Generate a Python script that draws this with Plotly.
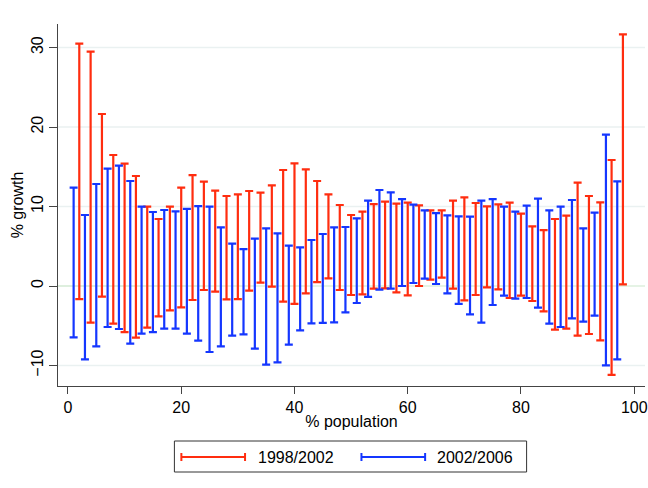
import plotly.graph_objects as go

# Red series: 1998/2002 (even percentiles)
x_red = list(range(2, 99, 2))
red_high = [30.48, 29.48, 21.64, 16.48, 15.39, 13.84, 9.98, 8.43, 9.98, 12.37,
            13.96, 13.12, 11.99, 11.32, 11.53, 11.95, 11.74, 12.66, 14.59, 15.43,
            14.68, 13.21, 11.53, 10.19, 8.93, 9.35, 10.31, 10.61, 10.36, 10.48,
            10.15, 9.52, 9.52, 10.73, 11.15, 10.44, 10.02, 10.27, 10.48, 9.10,
            7.51, 7.04, 8.43, 8.85, 13.00, 11.32, 10.52, 15.85, 31.66]
red_low = [-1.64, -4.61, -1.34, -4.74, -5.79, -6.50, -5.24, -3.82, -3.06, -2.68,
           -1.76, -0.50, -0.71, -1.68, -1.64, -0.59, 0.42, -0.08, -1.97, -2.26,
           -0.92, 0.50, 0.96, -0.50, -1.13, -1.05, -0.34, -0.29, -0.80, -1.17,
           0.00, 0.80, 1.05, -0.34, -1.80, -1.13, -0.17, -0.42, -1.51, -1.22,
           -1.89, -3.19, -5.49, -5.37, -6.25, -6.04, -6.83, -11.19, 0.21]

# Blue series: 2002/2006 (odd percentiles)
x_blue = list(range(1, 98, 2))
blue_high = [12.37, 8.93, 12.83, 14.76, 15.14, 13.21, 9.98, 9.31, 9.56, 9.39,
             9.69, 10.06, 9.98, 7.38, 5.32, 4.65, 5.95, 7.25, 6.62, 5.07,
             4.86, 5.79, 6.54, 7.38, 7.42, 8.51, 10.73, 12.08, 11.78, 10.94,
             10.23, 9.52, 9.18, 8.89, 8.76, 8.72, 10.73, 10.94, 9.98, 9.35,
             10.10, 10.99, 9.52, 9.98, 10.82, 7.25, 9.22, 19.04, 13.17]
blue_low = [-6.46, -9.22, -7.59, -5.16, -5.41, -7.25, -6.00, -5.79, -5.37, -5.37,
            -6.00, -6.88, -8.30, -7.59, -6.25, -6.08, -7.88, -9.90, -9.60, -7.38,
            -5.58, -4.70, -4.65, -4.57, -3.31, -2.14, -1.38, -0.46, -0.34, 0.00,
            0.38, 0.92, 0.25, -0.92, -2.26, -3.56, -4.61, -2.39, -1.22, -1.59,
            -1.51, -2.73, -4.74, -5.16, -4.07, -4.49, -3.73, -9.98, -9.22]

x_ticks = [0, 20, 40, 60, 80, 100]
y_ticks = [-10, 0, 10, 20, 30]
legend_labels = ["1998/2002", "2002/2006"]

RED = "#ff2d0f"
BLUE = "#1436ff"
FONT = "Liberation Sans, Arial, Helvetica, sans-serif"

fig = go.Figure()
for xs, lo, hi, col, name in [(x_red, red_low, red_high, RED, legend_labels[0]),
                              (x_blue, blue_low, blue_high, BLUE, legend_labels[1])]:
    fig.add_trace(go.Scatter(
        x=xs, y=lo, mode="markers", name=name,
        marker=dict(size=1, color="rgba(0,0,0,0)"),
        error_y=dict(type="data", symmetric=False,
                     array=[h - l for h, l in zip(hi, lo)],
                     arrayminus=[0] * len(lo),
                     color=col, thickness=2.2, width=4),
        showlegend=False, hoverinfo="skip"))

# grid lines
for v in [-10, 10, 20, 30]:
    fig.add_shape(type="line", xref="paper", yref="y", x0=0, x1=1, y0=v, y1=v,
                  line=dict(color="#eaf1f1", width=1.5), layer="below")
fig.add_shape(type="line", xref="paper", yref="y", x0=0, x1=0.25, y0=0, y1=0,
              line=dict(color="#d3ead3", width=1.5), layer="below")
fig.add_shape(type="line", xref="paper", yref="y", x0=0.25, x1=1, y0=0, y1=0,
              line=dict(color="#dcefdc", width=1.5), layer="below")

# manual legend (pixel -> paper conversion)
L, T, W, H = 58, 24, 590, 362
def px(xp):
    return (xp - L) / W
def py(yp):
    return (T + H - yp) / H

fig.add_shape(type="rect", xref="paper", yref="paper",
              x0=px(175), x1=px(529), y0=py(441), y1=py(472),
              line=dict(color="#333333", width=1), fillcolor="white")
for (x0, x1, col, tx, lab) in [(182, 246, RED, 257, legend_labels[0]),
                               (363, 427, BLUE, 437, legend_labels[1])]:
    yc = py(457)
    fig.add_shape(type="line", xref="paper", yref="paper", x0=px(x0), x1=px(x1),
                  y0=yc, y1=yc, line=dict(color=col, width=2))
    for xe in (x0, x1):
        fig.add_shape(type="line", xref="paper", yref="paper", x0=px(xe), x1=px(xe),
                      y0=py(453), y1=py(461), line=dict(color=col, width=2))
    fig.add_annotation(xref="paper", yref="paper", x=px(tx), y=yc, text=lab,
                       showarrow=False, xanchor="left", yanchor="middle",
                       font=dict(size=16, color="black", family=FONT))

fig.update_layout(
    width=648, height=488,
    margin=dict(l=L, r=0, t=T, b=488 - T - H),
    paper_bgcolor="white", plot_bgcolor="white",
    font=dict(family=FONT, size=16, color="black"),
    showlegend=False,
    xaxis=dict(range=[-1.76, 101.9], tickvals=x_ticks, ticks="outside", ticklen=7,
               tickcolor="#444", showgrid=False, zeroline=False, showline=True,
               linecolor="#444", linewidth=1, ticklabeloverflow="allow",
               title=dict(text="% population", standoff=0, font=dict(size=16))),
    yaxis=dict(range=[-12.58, 32.96], tickvals=y_ticks, ticks="outside", ticklen=8,
               tickcolor="#444", showgrid=False, zeroline=False, showline=True,
               linecolor="#444", linewidth=1, tickangle=-90,
               title=dict(text="% growth", standoff=0, font=dict(size=16))),
)

fig.write_html("out.html")
